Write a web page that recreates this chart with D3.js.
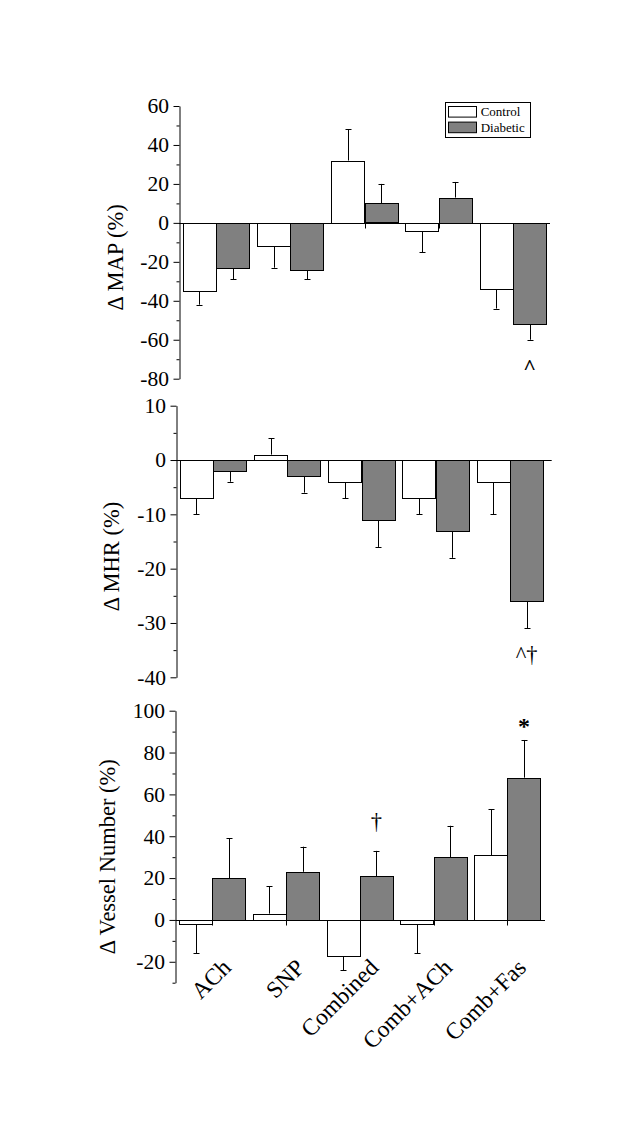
<!DOCTYPE html>
<html><head><meta charset="utf-8">
<script src="https://cdn.jsdelivr.net/npm/d3@7/dist/d3.min.js"></script>
<style>body{margin:0;background:#fff}svg{display:block}text{font-family:"Liberation Serif","Times New Roman",serif;fill:#000}</style>
</head><body>
<script>
// ---------- data ----------
const categories = ["ACh", "SNP", "Combined", "Comb+ACh", "Comb+Fas"];
const seriesNames = ["Control", "Diabetic"];

const mapControl = [-35, -12, 32, -4, -34];
const mapControlErr = [7, 11, 16, 11, 10];
const mapDiabetic = [-23, -24, 10, 13, -52];
const mapDiabeticErr = [6, 5, 10, 8, 8];

const mhrControl = [-7, 1, -4, -7, -4];
const mhrControlErr = [3, 3, 3, 3, 6];
const mhrDiabetic = [-2, -3, -11, -13, -26];
const mhrDiabeticErr = [2, 3, 5, 5, 5];

const vesselControl = [-2, 3, -17, -2, 31];
const vesselControlErr = [14, 13, 7, 14, 22];
const vesselDiabetic = [20, 23, 21, 30, 68];
const vesselDiabeticErr = [19, 12, 12, 15, 18];

const mapTicks = [-80, -60, -40, -20, 0, 20, 40, 60];
const mapMinor = [-70, -50, -30, -10, 10, 30, 50];
const mhrTicks = [-40, -30, -20, -10, 0, 10];
const mhrMinor = [-35, -25, -15, -5, 5];
const vesselTicks = [-20, 0, 20, 40, 60, 80, 100];
const vesselMinor = [-30, -10, 10, 30, 50, 70, 90];

const mapNotes = [{category: "Comb+Fas", series: "Diabetic", text: "^"}];
const mhrNotes = [{category: "Comb+Fas", series: "Diabetic", text: "^†"}];
const vesselNotes = [{category: "Combined", series: "Diabetic", text: "†"},
                     {category: "Comb+Fas", series: "Diabetic", text: "*"}];

// ---------- drawing ----------
const W = 640, H = 1143;
const svg = d3.select("body").append("svg").attr("width", W).attr("height", H);
svg.append("rect").attr("width", W).attr("height", H).attr("fill", "#fff");

const fills = {Control: "#ffffff", Diabetic: "#808080"};

function panel(cfg) {
  const g = svg.append("g");
  const y = d3.scaleLinear().domain(cfg.domain).range([cfg.yBottom, cfg.yTop]);
  const x0 = d3.scaleBand().domain(categories).range([cfg.axisX, cfg.axisX + cfg.width])
    .paddingInner(0.1).paddingOuter(0.05);
  const x1 = d3.scaleBand().domain(seriesNames).range([0, x0.bandwidth()]);
  const data = [];
  categories.forEach((c, i) => {
    data.push({c, s: "Control", v: cfg.ctrl[i], e: cfg.ctrlErr[i]});
    data.push({c, s: "Diabetic", v: cfg.diab[i], e: cfg.diabErr[i]});
  });
  const y0 = y(0);

  // error bars (drawn first so bar covers the inner part)
  const eg = g.append("g").attr("stroke", "#000").attr("stroke-width", 1);
  data.forEach(d => {
    const cx = Math.round(x0(d.c) + x1(d.s) + x1.bandwidth() / 2) + 0.5;
    const sign = d.v >= 0 ? 1 : -1;
    const ye = y(d.v + sign * d.e);
    eg.append("line").attr("x1", cx).attr("x2", cx).attr("y1", y(d.v)).attr("y2", ye);
    eg.append("line").attr("x1", cx - 3).attr("x2", cx + 3).attr("y1", Math.round(ye) + 0.5).attr("y2", Math.round(ye) + 0.5);
  });

  // bars
  g.append("g").selectAll("rect").data(data).join("rect")
    .attr("x", d => Math.round(x0(d.c) + x1(d.s)) + 0.5)
    .attr("width", Math.round(x1.bandwidth()))
    .attr("y", d => Math.round(Math.min(y(d.v), y0)) + 0.5)
    .attr("height", d => Math.round(Math.abs(y(d.v) - y0)))
    .attr("fill", d => fills[d.s]).attr("stroke", "#000").attr("stroke-width", 1);

  // zero line + category ticks
  const zy = Math.round(y0) + 0.5;
  g.append("line").attr("x1", cfg.axisX).attr("x2", cfg.lineEnd).attr("y1", zy).attr("y2", zy)
    .attr("stroke", "#000");
  categories.forEach(c => {
    const cx = Math.round(x0(c) + x0.bandwidth() / 2) + 0.5;
    g.append("line").attr("x1", cx).attr("x2", cx).attr("y1", zy).attr("y2", zy + 5).attr("stroke", "#000");
  });

  // y axis
  const ax = Math.round(cfg.axisX) + 0.5;
  const ya = g.append("g").attr("transform", `translate(${ax},0)`)
    .call(d3.axisLeft(y).tickValues(cfg.ticks).tickSize(6).tickSizeOuter(0).tickPadding(4.5)
      .tickFormat(d3.format("d")));
  ya.select(".domain").attr("stroke", "#000");
  ya.selectAll(".tick text").attr("font-size", 21.5).attr("font-family", "Liberation Serif")
    .text(d => String(d).replace("-", "-"));
  const ym = g.append("g").attr("transform", `translate(${ax},0)`)
    .call(d3.axisLeft(y).tickValues(cfg.minor).tickSize(3).tickSizeOuter(0).tickFormat(""));
  ym.select(".domain").remove();

  // y label
  g.append("text")
    .attr("transform", `translate(${cfg.axisX + cfg.labelDX},${(cfg.yTop + cfg.yBottom) / 2 + cfg.labelDY}) rotate(-90)`)
    .attr("text-anchor", "middle").attr("dy", "0.35em").attr("font-size", 22.5)
    .text(cfg.label);

  // annotations
  cfg.notes.forEach(n => {
    const i = categories.indexOf(n.category);
    const v = n.series === "Control" ? cfg.ctrl[i] : cfg.diab[i];
    const e = n.series === "Control" ? cfg.ctrlErr[i] : cfg.diabErr[i];
    const sign = v >= 0 ? 1 : -1;
    const ye = y(v + sign * e);
    const cx = x0(n.category) + x1(n.series) + x1.bandwidth() / 2;
    let by, fs = 22.5, fw = "normal";
    if (sign < 0) by = ye + 34;
    else by = n.text === "*" ? ye - 6 : ye - 22;
    if (n.text === "^" || n.text === "*") { fw = "bold"; fs = n.text === "*" ? 24 : 22; }
    g.append("text").attr("x", cx).attr("y", by).attr("text-anchor", "middle")
      .attr("font-size", fs).attr("font-weight", fw).text(n.text);
  });

  return {x0, y};
}

panel({axisX: 179, width: 371, lineEnd: 550, yTop: 106, yBottom: 378.7, domain: [-80, 60],
  ctrl: mapControl, ctrlErr: mapControlErr, diab: mapDiabetic, diabErr: mapDiabeticErr,
  ticks: mapTicks, minor: mapMinor, label: "Δ MAP (%)", labelDX: -64, labelDY: 15, notes: mapNotes});

panel({axisX: 176, width: 371, lineEnd: 551.7, yTop: 405.7, yBottom: 677.3, domain: [-40, 10],
  ctrl: mhrControl, ctrlErr: mhrControlErr, diab: mhrDiabetic, diabErr: mhrDiabeticErr,
  ticks: mhrTicks, minor: mhrMinor, label: "Δ MHR (%)", labelDX: -65, labelDY: 15, notes: mhrNotes});

const bottom = panel({axisX: 175.3, width: 369, lineEnd: 545, yTop: 710.7, yBottom: 982.7, domain: [-30, 100],
  ctrl: vesselControl, ctrlErr: vesselControlErr, diab: vesselDiabetic, diabErr: vesselDiabeticErr,
  ticks: vesselTicks, minor: vesselMinor, label: "Δ Vessel Number (%)", labelDX: -68, labelDY: 10, notes: vesselNotes});

// category labels (bottom panel)
const by0 = bottom.y(0);
svg.append("g").selectAll("text").data(categories).join("text")
  .attr("transform", d => `translate(${bottom.x0(d) + bottom.x0.bandwidth() / 2 + 20},${by0 + 49}) rotate(-45)`)
  .attr("text-anchor", "end").attr("font-size", 23.5).text(d => d);

// legend
const lg = svg.append("g");
lg.append("rect").attr("x", 445.5).attr("y", 102.5).attr("width", 85).attr("height", 35)
  .attr("fill", "#fff").attr("stroke", "#000");
seriesNames.forEach((s, i) => {
  lg.append("rect").attr("x", 448.5).attr("y", 106.5 + i * 15.6).attr("width", 28).attr("height", 10.6)
    .attr("fill", fills[s]).attr("stroke", "#000");
  lg.append("text").attr("x", 480.7).attr("y", 115.5 + i * 16).attr("font-size", 13).text(s);
});
</script>
</body></html>
